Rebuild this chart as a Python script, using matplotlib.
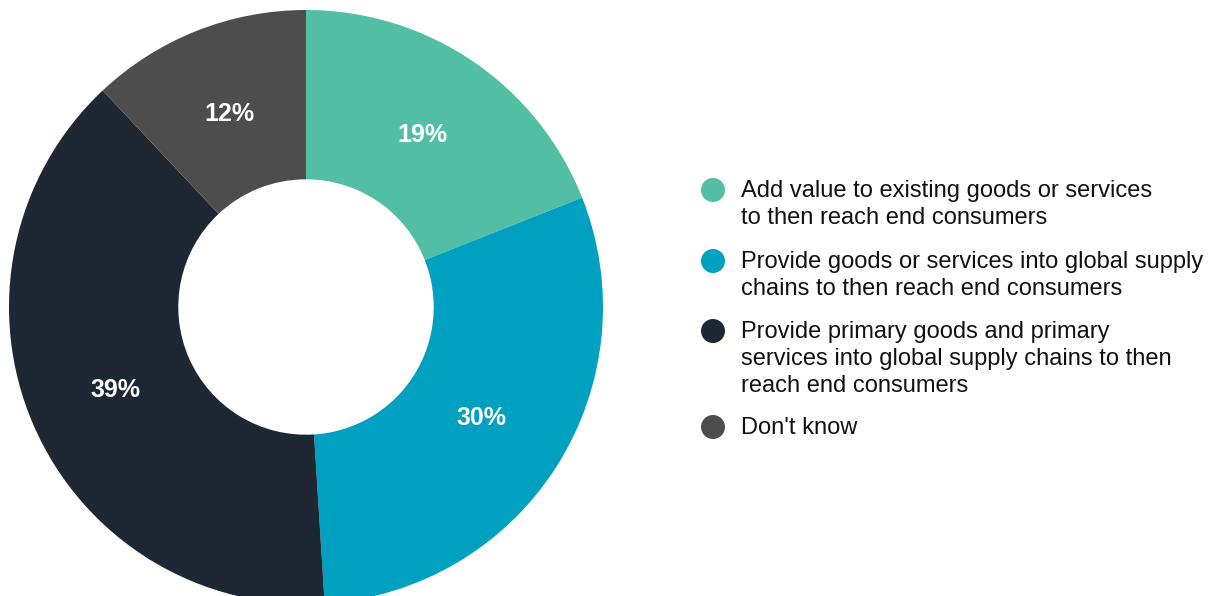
import numpy as np
import matplotlib.pyplot as plt
from matplotlib.patches import Circle

plt.rcParams['font.family'] = ['Liberation Sans', 'DejaVu Sans']

categories = [
    "Add value to existing goods or services\nto then reach end consumers",
    "Provide goods or services into global supply\nchains to then reach end consumers",
    "Provide primary goods and primary\nservices into global supply chains to then\nreach end consumers",
    "Don't know",
]
shares = [19, 30, 39, 12]
colors = ["#52BFA5", "#00A0C1", "#1E2835", "#4D4D4D"]

W, H = 1223, 596
fig = plt.figure(figsize=(W / 100, H / 100), dpi=100)

# Donut
cx, cy, r = 306, 307, 297
ax = fig.add_axes([(cx - r) / W, (H - cy - r) / H, 2 * r / W, 2 * r / H])
wedges, _ = ax.pie(shares, colors=colors, startangle=90, counterclock=False,
                   radius=1.0, wedgeprops=dict(width=0.57, linewidth=0))
ax.set_xlim(-1, 1)
ax.set_ylim(-1, 1)
ax.set_aspect('equal')
ax.axis('off')

for w, v in zip(wedges, shares):
    ang = np.deg2rad((w.theta1 + w.theta2) / 2)
    ax.text(0.70 * np.cos(ang), 0.70 * np.sin(ang), f"{v}%", color='white',
            fontsize=18, fontweight='bold', ha='center', va='center')

# Legend
lax = fig.add_axes([0, 0, 1, 1])
lax.set_xlim(0, W)
lax.set_ylim(H, 0)
lax.axis('off')
rows_y = [190, 261, 331, 427]
for y, c, label in zip(rows_y, colors, categories):
    lax.add_patch(Circle((713, y), 12, color=c, linewidth=0))
    lax.text(741, y - 10, label, fontsize=17, color='#111111', ha='left', va='top',
             linespacing=1.3)

fig.savefig('out.png', dpi=100, facecolor='white')
